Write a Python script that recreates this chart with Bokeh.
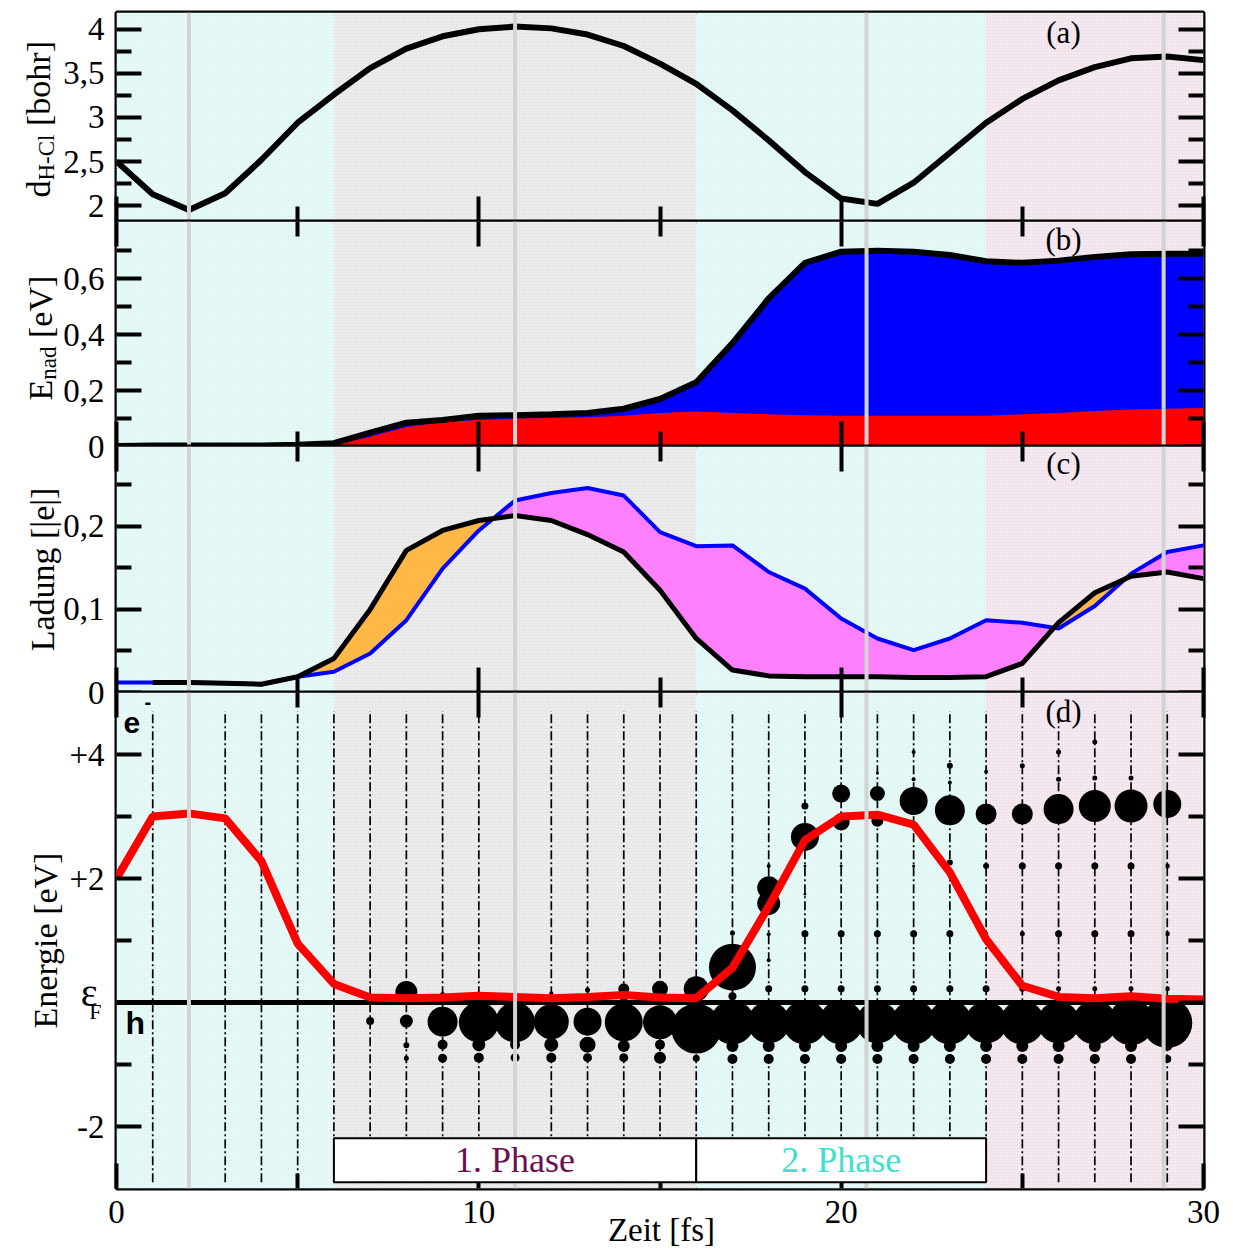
import numpy as np
from math import pi
from bokeh.plotting import figure
from bokeh.layouts import column
from bokeh.models import LinearAxis, FixedTicker, Range1d, Label, Span
from bokeh.core.properties import value
from bokeh.embed import file_html
from bokeh.resources import INLINE

# ---------------- data ----------------
time_fs = list(range(31))
d_hcl = [2.50, 2.13, 1.95, 2.14, 2.52, 2.94, 3.26, 3.56, 3.78, 3.92, 4.00, 4.03, 4.01,
         3.94, 3.81, 3.61, 3.38, 3.08, 2.74, 2.38, 2.08, 2.02, 2.26, 2.60, 2.94, 3.21,
         3.42, 3.57, 3.67, 3.69, 3.65]
e_nad_total = [0.002, 0.004, 0.004, 0.004, 0.004, 0.006, 0.012, 0.05, 0.085, 0.095, 0.11,
               0.112, 0.115, 0.12, 0.135, 0.17, 0.23, 0.37, 0.53, 0.657, 0.697, 0.70,
               0.697, 0.685, 0.663, 0.657, 0.665, 0.678, 0.688, 0.69, 0.69]
e_nad_part = [0.0, 0.0, 0.0, 0.0, 0.0, 0.002, 0.005, 0.035, 0.07, 0.088, 0.095, 0.10,
              0.102, 0.105, 0.11, 0.12, 0.125, 0.12, 0.115, 0.112, 0.11, 0.11, 0.11,
              0.11, 0.11, 0.115, 0.12, 0.127, 0.132, 0.135, 0.138]
# black charge curve starts at t = 1 fs
charge_black_t = list(range(1, 31))
charge_black = [0.012, 0.012, 0.011, 0.010, 0.019, 0.041, 0.100, 0.171, 0.195,
                0.207, 0.213, 0.207, 0.190, 0.169, 0.123, 0.065, 0.027, 0.020, 0.019,
                0.019, 0.019, 0.018, 0.018, 0.019, 0.035, 0.084, 0.120, 0.140, 0.145, 0.137]
charge_blue = [0.012, 0.012, 0.012, 0.011, 0.010, 0.019, 0.025, 0.047, 0.087, 0.149,
               0.195, 0.231, 0.240, 0.246, 0.237, 0.193, 0.176, 0.177, 0.145, 0.125,
               0.089, 0.065, 0.051, 0.065, 0.087, 0.084, 0.077, 0.104, 0.143, 0.169, 0.177]
level_energy = [2.0, 3.0, 3.05, 2.97, 2.28, 0.95, 0.30, 0.08, 0.07, 0.08, 0.11, 0.09,
                0.07, 0.09, 0.12, 0.08, 0.07, 0.56, 1.55, 2.62, 3.0, 3.03, 2.87, 2.10,
                1.02, 0.27, 0.09, 0.07, 0.10, 0.06, 0.05]

# electron populations above eF (time, energy, weight)
e_t = [8, 9, 10, 12, 12, 13, 13, 14, 14, 15, 15, 16,
       17, 17, 17,
       18, 18, 18, 18, 18, 18,
       19, 19, 19, 19, 19, 19,
       20, 20, 20, 20, 20, 20,
       21, 21, 21, 21, 21,
       22, 22, 22, 22, 22, 22,
       23, 23, 23, 23, 23, 23,
       24, 24, 24, 24, 24,
       25, 25, 25, 25, 25,
       26, 26, 26, 26, 26, 26,
       27, 27, 27, 27, 27, 27,
       28, 28, 28, 28, 28,
       29, 29, 29, 29]
e_E = [0.17, 0.13, 0.10, 0.15, 0.05, 0.20, 0.07, 0.22, 0.09, 0.22, 0.08, 0.22,
       0.57, 1.12, 0.10,
       1.85, 1.60, 2.20, 1.10, 0.68, 0.22,
       2.67, 3.17, 1.11, 0.22, 1.75, 2.20,
       3.37, 2.91, 1.11, 0.22, 3.90, 2.20,
       3.37, 2.93, 1.11, 0.22, 3.70,
       3.25, 4.04, 3.60, 1.11, 0.22, 2.20,
       3.10, 3.82, 3.55, 2.26, 1.11, 0.22,
       3.04, 3.72, 2.20, 1.11, 0.22,
       3.04, 3.82, 2.20, 1.11, 0.22,
       3.12, 4.04, 3.60, 2.20, 1.11, 0.22,
       3.17, 4.20, 3.62, 2.20, 1.11, 0.22,
       3.17, 3.62, 2.20, 1.11, 0.22,
       3.20, 2.20, 1.11, 0.22]
e_w = [22, 5, 3, 4, 4, 5, 5, 11, 9, 16, 13, 25,
       47, 5, 8,
       23, 23, 4, 4, 4, 7,
       28, 7, 7, 7, 3, 3,
       18, 17, 7, 7, 3, 3,
       15, 12, 7, 7, 3,
       28, 4, 4, 7, 7, 3,
       30, 6, 4, 6, 7, 7,
       21, 4, 6, 4, 7,
       21, 5, 7, 5, 6,
       30, 5, 5, 7, 7, 5,
       32, 5, 5, 7, 7, 5,
       33, 5, 7, 7, 5,
       28, 5, 5, 5]

# hole populations below eF
h_t = [7, 8, 8, 8, 9, 9, 9, 10, 10, 10, 11, 11, 11, 12, 12, 12, 13, 13, 13,
       14, 14, 14, 15, 15, 15, 16, 16,
       17, 17, 17, 18, 18, 18, 19, 19, 19, 20, 20, 20, 21, 21, 21, 22, 22, 22,
       23, 23, 23, 24, 24, 24, 25, 25, 25, 26, 26, 26, 27, 27, 27, 28, 28, 28,
       29, 29, 29]
h_E = [-0.30, -0.30, -0.69, -0.90, -0.31, -0.68, -0.90, -0.32, -0.68, -0.89,
       -0.32, -0.68, -0.89, -0.31, -0.68, -0.89, -0.31, -0.68, -0.89,
       -0.32, -0.70, -0.89, -0.32, -0.68, -0.89, -0.42, -0.90,
       -0.32, -0.70, -0.91, -0.32, -0.70, -0.91, -0.32, -0.70, -0.91,
       -0.32, -0.70, -0.91, -0.32, -0.70, -0.91, -0.32, -0.70, -0.91,
       -0.32, -0.70, -0.91, -0.32, -0.70, -0.91, -0.32, -0.70, -0.91,
       -0.32, -0.70, -0.91, -0.32, -0.70, -0.91, -0.32, -0.70, -0.91,
       -0.33, -0.70, -0.91]
h_w = [8, 13, 6, 5, 30, 10, 9, 40, 13, 10, 40, 10, 9, 35, 14, 10, 28, 16, 9,
       38, 12, 9, 34, 10, 12, 50, 7,
       44, 12, 10, 42, 12, 10, 44, 12, 10, 44, 12, 10, 42, 12, 10, 44, 12, 10,
       44, 12, 10, 42, 12, 10, 44, 12, 10, 42, 12, 10, 44, 12, 10, 46, 12, 10,
       50, 10, 8]

level_times = list(range(1, 30))
level_window = (-2.9, 4.7)

region_edges = [0, 6, 16, 24, 30]
region_colors = ["#def6f4", "#e6e6e6", "#def6f4", "#f0e2ea"]
marker_times = [2.0, 11.0, 20.7, 28.9]
phase_edges = [6, 16, 24]
phase_names = ["1. Phase", "2. Phase"]
phase_colors = ["#6a0f4f", "#40e0d0"]
phase_band = (-2.9, -2.19)

# ---------------- style ----------------
SERIF = "Liberation Serif"
SANS = "Liberation Sans"
TICK_FS = "33px"
LAB = 34
SUB = 23
FRAME_W = 1087
LEFT = 116
RIGHT = 22
BB = 22      # bottom overflow border
TB = 6       # top border of stacked panels
TOP0 = 12
BOT_D = 64
FH = [209, 225, 246, 496]
TOTAL_W = LEFT + FRAME_W + RIGHT
TOTAL_H = TOP0 + FH[0] + FH[1] + FH[2] + FH[3] + BOT_D

W = {"d": 500, "H": 722, "-": 333, "C": 667, "l": 278, " ": 250, "[": 333, "b": 500,
     "o": 500, "h": 500, "r": 333, "]": 333, "E": 611, "n": 500, "a": 444, "e": 444,
     "V": 722, "|": 200}


def tw(s, px):
    return sum(W.get(c, 500) for c in s) * px / 1000.0


def comma(v):
    return ("%g" % v).replace(".", ",")


def make_fig(ylo, yhi, frame_h, top, bottom, margin):
    p = figure(frame_width=FRAME_W, frame_height=frame_h,
               x_range=Range1d(0, 30), y_range=Range1d(ylo, yhi),
               output_backend="svg", toolbar_location=None,
               x_axis_location=None, y_axis_location=None,
               min_border_left=LEFT, min_border_right=RIGHT,
               min_border_top=top, min_border_bottom=bottom, margin=margin)
    p.outline_line_color = "black"
    p.outline_line_width = 4
    p.border_fill_color = None
    p.background_fill_color = None
    p.xgrid.visible = False
    p.ygrid.visible = False
    p.quad(left=region_edges[:-1], right=region_edges[1:], bottom=ylo, top=yhi,
           fill_color=region_colors, line_color=None,
           hatch_pattern=".", hatch_color="white", hatch_scale=3, hatch_weight=1.2,
           hatch_alpha=0.8)
    return p


def style_axis(ax, labels):
    ax.axis_line_color = None
    ax.major_tick_in = 25
    ax.major_tick_out = 0
    ax.minor_tick_in = 15
    ax.minor_tick_out = 0
    ax.major_tick_line_width = 4
    ax.minor_tick_line_width = 4
    ax.major_tick_line_color = "black"
    ax.minor_tick_line_color = "black"
    ax.major_label_text_font = SERIF
    if labels:
        ax.major_label_text_color = "black"
        ax.major_label_text_font_size = TICK_FS
        ax.major_label_standoff = 12
    else:
        ax.major_label_text_color = None
        ax.major_label_text_font_size = "0px"
        ax.major_label_standoff = 0


def y_axes(p, major, minor, overrides):
    ax = LinearAxis(ticker=FixedTicker(ticks=major, minor_ticks=minor))
    style_axis(ax, True)
    ax.major_label_overrides = overrides
    p.add_layout(ax, "left")
    ax2 = LinearAxis(ticker=FixedTicker(ticks=major, minor_ticks=minor))
    style_axis(ax2, False)
    p.add_layout(ax2, "right")


def x_axis(p, side, labels=False):
    ax = LinearAxis(ticker=FixedTicker(ticks=[0, 10, 20, 30], minor_ticks=[5, 15, 25]))
    style_axis(ax, labels)
    if labels:
        ax.major_label_standoff = 12
    p.add_layout(ax, side)


def markers(p):
    for t in marker_times:
        p.add_layout(Span(location=t, dimension="height", line_color="#d3d3d3", line_width=4))


def tag(p, txt, x, y):
    p.add_layout(Label(x=x, y=y, x_units="screen", y_units="screen", text=txt,
                       text_align="center", text_baseline="middle", text_font=SERIF,
                       text_font_size="31px", text_color="black"))


# ---------------- panel (a) ----------------
pa = make_fig(1.82, 4.19, FH[0], TOP0, BB, (0, 0, 0, 0))
pa.line(time_fs, d_hcl, line_color="black", line_width=6)
y_axes(pa, [2, 2.5, 3, 3.5, 4], [2.25, 2.75, 3.25, 3.75],
       {v: comma(v) for v in [2, 2.5, 3, 3.5, 4]})
x_axis(pa, "below")
markers(pa)
tag(pa, "(a)", 947, 189)

# ---------------- panel (b) ----------------
pb = make_fig(0, 0.805, FH[1], TB, BB, (-(BB + TB), 0, 0, 0))
pb.varea(x=time_fs, y1=0, y2=e_nad_total, fill_color="#0000ff")
pb.varea(x=time_fs, y1=0, y2=e_nad_part, fill_color="#ff0000")
pb.line(time_fs, e_nad_total, line_color="black", line_width=6)
y_axes(pb, [0, 0.2, 0.4, 0.6], [0.1, 0.3, 0.5, 0.7],
       {v: comma(v) for v in [0, 0.2, 0.4, 0.6]})
x_axis(pb, "above")
x_axis(pb, "below")
markers(pb)
tag(pb, "(b)", 947, 207)

# ---------------- panel (c) ----------------
pc = make_fig(0, 0.296, FH[2], TB, BB, (-(BB + TB), 0, 0, 0))
fine_t = np.linspace(1, 30, 2901)
cb = np.interp(fine_t, charge_black_t, charge_black)
cu = np.interp(fine_t, time_fs, charge_blue)
pc.varea(x=fine_t, y1=cu, y2=np.maximum(cb, cu), fill_color="#ffb845")
pc.varea(x=fine_t, y1=cb, y2=np.maximum(cb, cu), fill_color="#ff80ff")
pc.line(time_fs, charge_blue, line_color="#0000ff", line_width=4)
pc.line(charge_black_t, charge_black, line_color="black", line_width=5)
y_axes(pc, [0, 0.1, 0.2], [0.05, 0.15, 0.25], {v: comma(v) for v in [0, 0.1, 0.2]})
x_axis(pc, "above")
x_axis(pc, "below")
markers(pc)
tag(pc, "(c)", 947, 229)

# ---------------- panel (d) ----------------
pd_ = make_fig(-3.0, 5.0, FH[3], TB, BOT_D, (-(BB + TB), 0, 0, 0))
pd_.segment(x0=level_times, y0=level_window[0], x1=level_times, y1=level_window[1],
            line_color="black", line_width=1.7, line_dash="9 3 2 3")
pd_.scatter(x=h_t, y=h_E, size=h_w, fill_color="black", line_color=None)
pd_.scatter(x=e_t, y=e_E, size=e_w, fill_color="black", line_color=None)
pd_.hspan(y=[0], line_color="black", line_width=5)
pd_.line(time_fs, level_energy, line_color="#ff0000", line_width=8)
y_axes(pd_, [-2, 0, 2, 4], [-1, 1, 3], {-2: "-2", 0: "", 2: "+2", 4: "+4"})
x_axis(pd_, "above")
x_axis(pd_, "below", labels=True)
markers(pd_)
mid = [(a + b) / 2 for a, b in zip(phase_edges[:-1], phase_edges[1:])]
pd_.quad(left=phase_edges[:-1], right=phase_edges[1:], bottom=phase_band[0], top=phase_band[1],
         fill_color="white", line_color="black", line_width=2, level="overlay")
pd_.text(x=mid, y=sum(phase_band) / 2, text=phase_names, text_color=phase_colors,
         text_font=value(SERIF), text_font_size="36px", text_align="center",
         text_baseline="middle", level="overlay")
tag(pd_, "(d)", 947, 477)
pd_.add_layout(Label(x=7, y=466, x_units="screen", y_units="screen", text="e",
                     text_align="left", text_baseline="middle", text_font=SANS,
                     text_font_style="bold", text_font_size="30px", text_color="black"))
pd_.add_layout(Label(x=28, y=487, x_units="screen", y_units="screen", text="-",
                     text_align="left", text_baseline="middle", text_font=SANS,
                     text_font_style="bold", text_font_size="20px", text_color="black"))
pd_.add_layout(Label(x=9, y=166, x_units="screen", y_units="screen", text="h",
                     text_align="left", text_baseline="middle", text_font=SANS,
                     text_font_style="bold", text_font_size="32px", text_color="black"))

# ---------------- overlay for texts outside the frames ----------------
ov = figure(frame_width=TOTAL_W, frame_height=TOTAL_H,
            x_range=Range1d(0, TOTAL_W), y_range=Range1d(0, TOTAL_H),
            output_backend="svg", toolbar_location=None,
            x_axis_location=None, y_axis_location=None,
            min_border_left=0, min_border_right=0, min_border_top=0, min_border_bottom=0,
            margin=(-TOTAL_H, 0, 0, -LEFT))
ov.outline_line_color = None
ov.background_fill_color = None
ov.border_fill_color = None
ov.xgrid.visible = False
ov.ygrid.visible = False


def otext(txt, x, ytop, size, angle=0.0, align="left", baseline="alphabetic", font=SERIF):
    ov.text(x=[x], y=[TOTAL_H - ytop], text=[txt], angle=angle, text_font=value(font),
            text_font_size=f"{size}px", text_align=align, text_baseline=baseline,
            text_color="black")


def vlabel(pieces, xb, ystart):
    y = ystart
    for txt, size, dx in pieces:
        if txt != " ":
            otext(txt, xb + dx, y, size, angle=pi / 2)
        y -= tw(txt, size)


vlabel([("d", LAB, 0), ("H-Cl", SUB, 8), (" ", LAB, 0), ("[bohr]", LAB, 0)], 38, 197)
vlabel([("E", LAB, 0), ("nad", SUB, 8), (" ", LAB, 0), ("[eV]", LAB, 0)], 40, 400)
otext("Ladung [|e|]", 42, 569, LAB, angle=pi / 2, align="center")
otext("Energie [eV]", 45, 940, LAB, angle=pi / 2, align="center")
otext("ε", 97, 992, 40, align="right", baseline="middle")
otext("F", 101, 1011, 22, align="right", baseline="middle")
otext("Zeit [fs]", 661, 1229, 33, align="center")

layout = column(pa, pb, pc, pd_, ov, spacing=0)
open("out.html", "w").write(file_html(layout, INLINE))
